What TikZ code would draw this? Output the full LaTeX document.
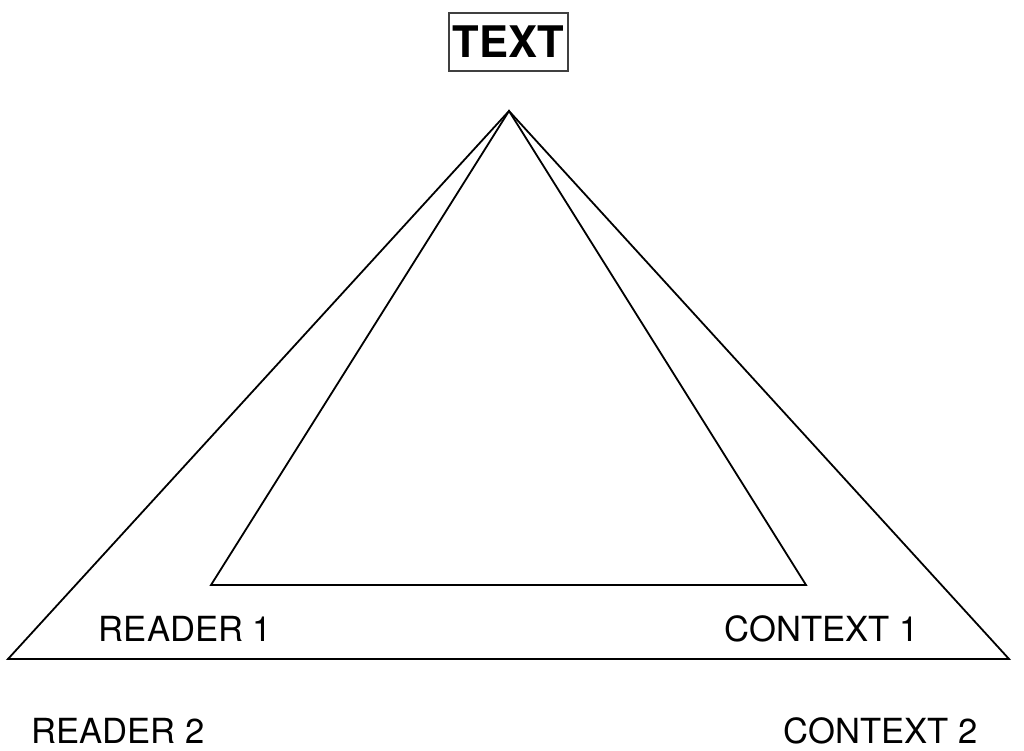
\documentclass[tikz,border=0pt]{standalone}
\usepackage{fontspec}
\setmainfont{TeX Gyre Heros}
\begin{document}
\begin{tikzpicture}[x=1pt,y=-1pt,
  tri/.style={line width=1.8pt,line join=miter},
  lbl/.style={anchor=base,inner sep=0pt,font=\fontsize{34.6}{37}\selectfont},
  titlebox/.style={draw=black!75,line width=1.3pt,minimum width=119pt,minimum height=58pt,inner sep=0pt,font=\fontsize{43.5}{46}\selectfont\bfseries}]
\useasboundingbox (0,0) rectangle (1024,751);
\coordinate (apex) at (509,111);
\coordinate (oL) at (8,659);
\coordinate (oR) at (1009,659);
\coordinate (iL) at (211,585);
\coordinate (iR) at (806,585);
\draw[tri] (apex) -- (oL) -- (oR) -- cycle;
\draw[tri] (apex) -- (iL) -- (iR) -- cycle;
\node[titlebox] (text) at (508.5,42) {TEXT};
\node[lbl] (r1) at (185.5,641) {READER 1};
\node[lbl] (c1) at (821.5,641) {CONTEXT 1};
\node[lbl] (r2) at (118,743) {READER 2};
\node[lbl] (c2) at (880.5,743) {CONTEXT 2};
\end{tikzpicture}
\end{document}
